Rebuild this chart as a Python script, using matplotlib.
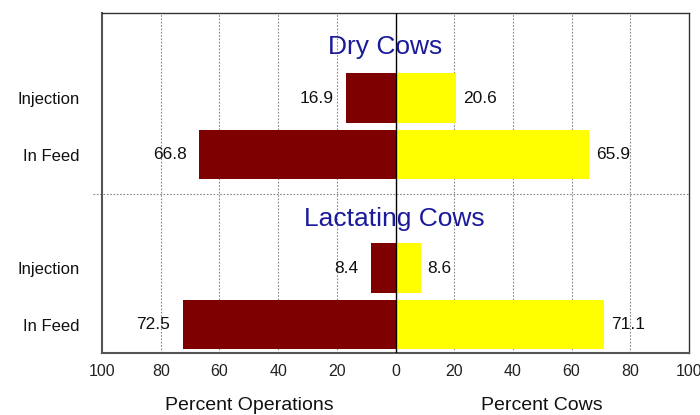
import matplotlib
matplotlib.use("Agg")
import matplotlib.pyplot as plt

groups = ["Dry Cows", "Lactating Cows"]
categories = ["Injection", "In Feed", "Injection", "In Feed"]
pct_operations = [16.9, 66.8, 8.4, 72.5]
pct_cows = [20.6, 65.9, 8.6, 71.1]
xticks = [-100, -80, -60, -40, -20, 0, 20, 40, 60, 80, 100]
xticklabels = ["100", "80", "60", "40", "20", "0", "20", "40", "60", "80", "100"]

plt.rcParams['font.family'] = ['Liberation Sans', 'DejaVu Sans']

ypos = [1.5, 2.5, 4.5, 5.5]
fig = plt.figure(figsize=(7, 4.15), dpi=100)
ax = fig.add_axes([102/700, 1-353/415, 587/700, 340/415])
ax.set_xlim(-100, 100)
ax.set_ylim(6, 0)

ax.barh(ypos, [-v for v in pct_operations], height=0.865, color='#7f0000', zorder=3)
ax.barh(ypos, pct_cows, height=0.865, color='#ffff00', zorder=3)

for y, v in zip(ypos, pct_operations):
    ax.annotate(f"{v}", (-v, y), xytext=(-9, 0), textcoords='offset points',
                ha='right', va='center', fontsize=12.5, color='#111111', zorder=4)
for y, v in zip(ypos, pct_cows):
    ax.annotate(f"{v}", (v, y), xytext=(5, 0), textcoords='offset points',
                ha='left', va='center', fontsize=12.5, color='#111111', zorder=4)

for x in [-80, -60, -40, -20, 20, 40, 60, 80]:
    ax.axvline(x, color='#888888', linestyle=(0, (1.5, 1.5)), linewidth=0.8, zorder=1)
ax.axvline(0, color='black', linewidth=1.0, zorder=5)
ax.plot([-103, 100], [3.2, 3.2], color='#888888', linestyle=(0, (1.5, 1.5)),
        linewidth=0.8, clip_on=False, zorder=1)

ax.text(-3.5, 0.6, groups[0], ha='center', va='center', fontsize=19, color='#1a1a9a', zorder=6)
ax.text(-0.5, 3.64, groups[1], ha='center', va='center', fontsize=19, color='#1a1a9a', zorder=6)

ax.set_xticks(xticks)
ax.set_xticklabels(xticklabels, fontsize=11.5, color='#222222')
ax.set_yticks(ypos)
ax.set_yticklabels(categories, fontsize=12, color='#111111')
ax.tick_params(axis='x', length=0, pad=8)
ax.tick_params(axis='y', length=0, pad=16)

for s in ['left', 'bottom']:
    ax.spines[s].set_color('#555555')
    ax.spines[s].set_linewidth(1.5)
for s in ['top', 'right']:
    ax.spines[s].set_color('#333333')
    ax.spines[s].set_linewidth(1.0)

fig.text(249/700, 1-405/415, "Percent Operations", ha='center', va='center', fontsize=14, color='#111111')
fig.text(542/700, 1-405/415, "Percent Cows", ha='center', va='center', fontsize=14, color='#111111')

fig.savefig("out.png", dpi=100)
